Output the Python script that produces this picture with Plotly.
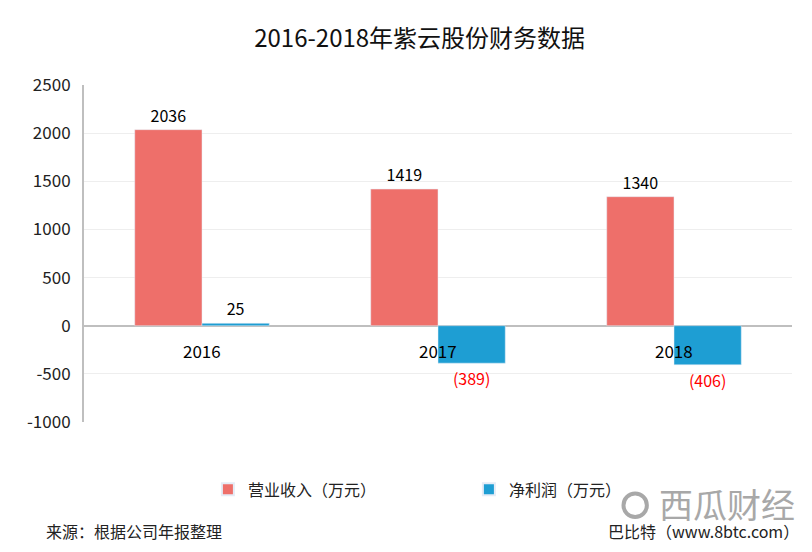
import plotly.graph_objects as go

years = ["2016", "2017", "2018"]
revenue = [2036, 1419, 1340]
net_profit = [25, -389, -406]
series_names = ["营业收入（万元）", "净利润（万元）"]
y_ticks = [-1000, -500, 0, 500, 1000, 1500, 2000, 2500]

FONT = "Noto Sans CJK SC, Microsoft YaHei, sans-serif"
RED = "#EE6F6A"
BLUE = "#1E9ED3"
GREY = "#A8A8A8"


def fmt(v):
    return f"({abs(v)})" if v < 0 else f"{v}"


fig = go.Figure()
fig.add_trace(go.Bar(
    x=years, y=revenue, name=series_names[0],
    marker_color=RED,
    text=[fmt(v) for v in revenue], textposition="outside",
    textfont=dict(color="#000000", size=16),
    cliponaxis=False,
))
fig.add_trace(go.Bar(
    x=years, y=net_profit, name=series_names[1],
    marker_color=BLUE,
    text=[fmt(v) for v in net_profit], textposition="outside",
    textfont=dict(color=["#000000" if v >= 0 else "#FF0000" for v in net_profit], size=16),
    cliponaxis=False,
))

# category labels sit just under the zero line (x given as category index)
for i, yr in enumerate(years):
    fig.add_annotation(x=i, y=0, xref="x", yref="y", text=yr, showarrow=False,
                       yanchor="top", yshift=-10, font=dict(size=17, color="#000000"))

fig.add_annotation(x=-0.057, y=-0.323, xref="paper", yref="paper", text="来源：根据公司年报整理",
                   showarrow=False, xanchor="left", yanchor="middle",
                   font=dict(size=16, color="#222222"))
fig.add_annotation(x=1.013, y=-0.323, xref="paper", yref="paper", text="巴比特（www.8btc.com）",
                   showarrow=False, xanchor="right", yanchor="middle",
                   font=dict(size=16, color="#222222"))
# watermark
fig.add_annotation(x=1.007, y=-0.243, xref="paper", yref="paper", text="西瓜财经",
                   showarrow=False, xanchor="right", yanchor="middle",
                   font=dict(size=34, color=GREY))
fig.add_shape(type="circle", xref="paper", yref="paper",
              x0=0.762, x1=0.795, y0=-0.282, y1=-0.212,
              line=dict(color=GREY, width=4))

# the page body adds an 8px offset, so margins are trimmed to compensate
fig.update_layout(
    width=812, height=552,
    paper_bgcolor="white", plot_bgcolor="white",
    margin=dict(l=76, r=28, t=77, b=138, autoexpand=False),
    font=dict(family=FONT, size=15, color="#222222"),
    title=dict(text="2016-2018年紫云股份财务数据", x=0.507, xanchor="center",
               y=0.945, yanchor="middle", font=dict(size=24, color="#111111")),
    barmode="group", bargap=0.43, bargroupgap=0,
    legend=dict(orientation="h", x=0.175, xanchor="left", y=-0.2, yanchor="middle",
                font=dict(size=16), entrywidth=216, itemsizing="constant",
                bgcolor="rgba(0,0,0,0)"),
    xaxis=dict(type="category", range=[-0.5, 2.5], showticklabels=False, showgrid=False,
               zeroline=False, showline=False),
    yaxis=dict(range=[-1000, 2500], tickvals=y_ticks, ticktext=[str(v) for v in y_ticks],
               showgrid=True, gridcolor="#EEEEEE", automargin=False,
               gridwidth=1, zeroline=True, zerolinecolor="#BFBFBF", zerolinewidth=2,
               showline=True, linecolor="#BFBFBF", linewidth=2,
               tickfont=dict(size=17, color="#222222"), ticklabelstandoff=8),
)

fig.write_html("out.html")
